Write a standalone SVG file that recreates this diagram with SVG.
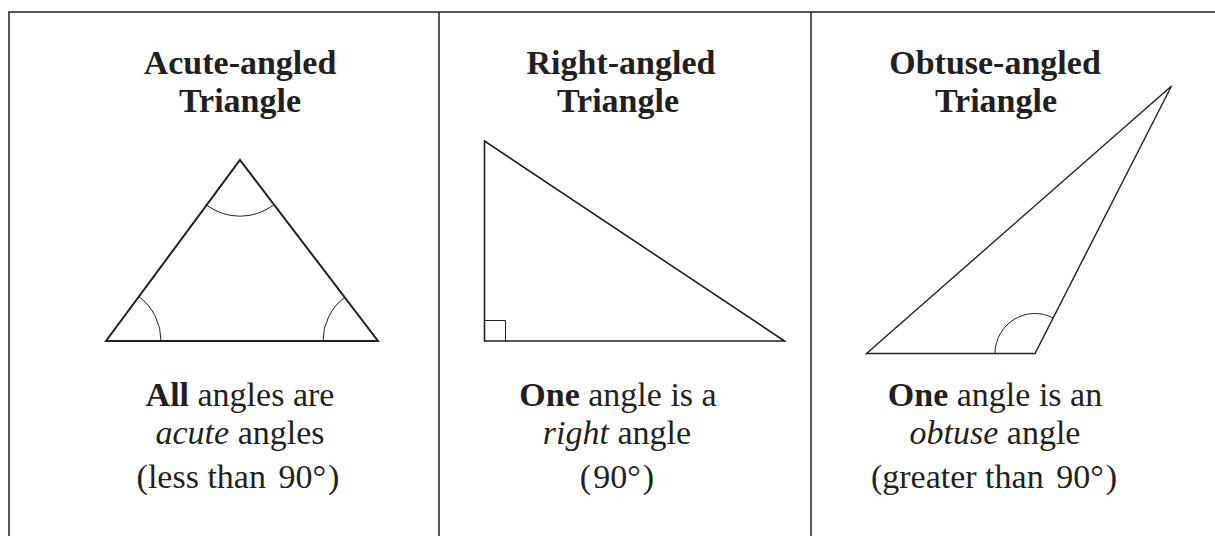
<svg xmlns="http://www.w3.org/2000/svg" width="1215" height="536" viewBox="0 0 1215 536">
<style>
.t{font-family:"Liberation Serif","Times New Roman",serif;font-size:34px;fill:#231f20;text-anchor:middle}
.b{font-weight:bold}
.i{font-style:italic}
.frame{stroke:#231f20;stroke-width:1.5;fill:none}
.tri{stroke:#231f20;fill:none;stroke-linejoin:miter}
.arc{stroke:#231f20;stroke-width:1;fill:none}
</style>
<rect width="1215" height="536" fill="#fff"/>
<g id="table" class="frame">
<path d="M9 536V12H1215"/>
<path d="M439 12V536"/>
<path d="M811 12V536"/>
</g>
<g id="acute">
<text class="t b" x="240" y="74">Acute-angled</text>
<text class="t b" x="240" y="112">Triangle</text>
<path class="tri" stroke-width="2" d="M240 160L378 341H106Z"/>
<path class="arc" d="M206.4 205A56 56 0 0 0 273.6 205"/>
<path class="arc" d="M139 296.7A55 55 0 0 1 161 341"/>
<path class="arc" d="M345 297A55 55 0 0 0 323 341"/>
<text class="t" x="240" y="406"><tspan class="b">All</tspan> angles are</text>
<text class="t" x="240" y="444"><tspan class="i">acute</tspan> angles</text>
<text class="t" x="238" y="488">(less than <tspan dx="4">90°</tspan><tspan dx="2">)</tspan></text>
</g>
<g id="right">
<text class="t b" x="621" y="74">Right-angled</text>
<text class="t b" x="618" y="112">Triangle</text>
<path class="tri" stroke-width="1.6" d="M484.5 141V341H784.5Z"/>
<path class="arc" stroke-width="1.2" d="M484.5 320.5H505.5V341"/>
<text class="t" x="618" y="406"><tspan class="b">One</tspan> angle is a</text>
<text class="t" x="617" y="444"><tspan class="i">right</tspan> angle</text>
<text class="t" x="617" y="488">(<tspan dx="2">90°</tspan><tspan dx="2">)</tspan></text>
</g>
<g id="obtuse">
<text class="t b" x="995" y="74">Obtuse-angled</text>
<text class="t b" x="996" y="112">Triangle</text>
<path class="tri" stroke-width="1.4" d="M866.5 353.5H1035L1171.5 86Z"/>
<path class="arc" d="M995 353.5A40 40 0 0 1 1053.2 317.9"/>
<text class="t" x="995" y="406"><tspan class="b">One</tspan> angle is an</text>
<text class="t" x="995" y="444"><tspan class="i">obtuse</tspan> angle</text>
<text class="t" x="994" y="488">(greater than <tspan dx="4">90°</tspan><tspan dx="2">)</tspan></text>
</g>
</svg>
